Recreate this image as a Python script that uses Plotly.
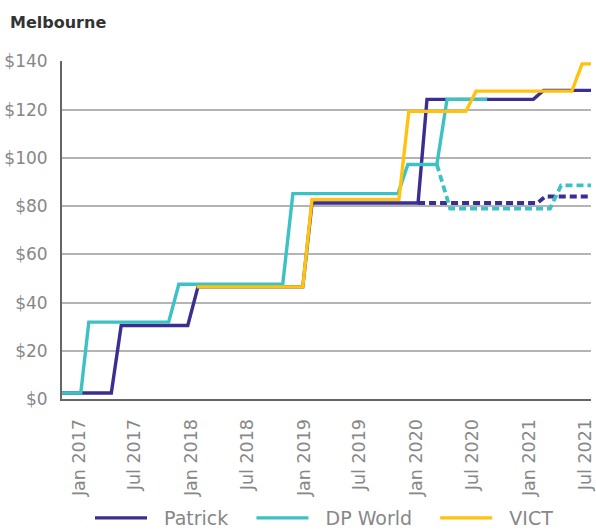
import plotly.graph_objects as go

# ---- data ----
patrick_dates = ["2016-11-07", "2017-04-16", "2017-05-18", "2017-12-20", "2018-01-22",
                 "2018-12-28", "2019-01-27", "2020-01-06", "2020-02-04", "2021-01-14",
                 "2021-02-16", "2021-07-20"]
patrick_vals = [2.5, 2.5, 30.5, 30.5, 46.5, 46.5, 81.3, 81.3, 124.3, 124.3, 128, 128]

patrick_alt_dates = ["2020-01-06", "2021-01-27", "2021-02-22", "2021-07-20"]
patrick_alt_vals = [81.3, 81.3, 84, 84]

dpw_dates = ["2016-11-07", "2017-01-07", "2017-02-02", "2017-10-19", "2017-11-21",
             "2018-10-24", "2018-11-26", "2019-11-02", "2019-12-04", "2020-03-07",
             "2020-04-09", "2020-08-17"]
dpw_vals = [2.5, 2.5, 31.9, 31.9, 47.6, 47.6, 85.2, 85.2, 97.3, 97.3, 124.3, 124.3]

dpw_alt_dates = ["2020-03-07", "2020-04-19", "2021-03-09", "2021-04-14", "2021-07-20"]
dpw_alt_vals = [97.3, 79, 79, 88.6, 88.6]

vict_dates = ["2018-01-18", "2018-12-28", "2019-01-27", "2019-11-05", "2019-12-07",
              "2020-06-09", "2020-07-12", "2021-05-19", "2021-06-21", "2021-07-20"]
vict_vals = [46.5, 46.5, 82.8, 82.8, 119.3, 119.3, 127.7, 127.7, 139, 139]

y_tickvals = [0, 20, 40, 60, 80, 100, 120, 140]
y_ticktext = ["$0", "$20", "$40", "$60", "$80", "$100", "$120", "$140"]
x_tickvals = ["2017-01-01", "2017-07-01", "2018-01-01", "2018-07-01", "2019-01-01",
              "2019-07-01", "2020-01-01", "2020-07-01", "2021-01-01", "2021-07-01"]
x_ticktext = ["Jan 2017", "Jul 2017", "Jan 2018", "Jul 2018", "Jan 2019",
              "Jul 2019", "Jan 2020", "Jul 2020", "Jan 2021", "Jul 2021"]
series_names = ["Patrick", "DP World", "VICT"]

PURPLE = "#3a2e92"
TEAL = "#3cc1c4"
YELLOW = "#ffc20e"
FONT = "DejaVu Sans"
GREY = "#878787"
NB = "\u00a0"

fig = go.Figure()
fig.add_trace(go.Scatter(x=patrick_dates, y=patrick_vals, mode="lines",
                         name=NB * 2 + series_names[0] + NB * 3,
                         line=dict(color=PURPLE, width=3.4)))
fig.add_trace(go.Scatter(x=patrick_alt_dates, y=patrick_alt_vals, mode="lines", showlegend=False,
                         line=dict(color=PURPLE, width=3.8, dash="7px,4px")))
fig.add_trace(go.Scatter(x=dpw_dates, y=dpw_vals, mode="lines",
                         name=NB * 2 + series_names[1] + NB * 3,
                         line=dict(color=TEAL, width=3.4)))
fig.add_trace(go.Scatter(x=dpw_alt_dates, y=dpw_alt_vals, mode="lines", showlegend=False,
                         line=dict(color=TEAL, width=3.8, dash="7px,4px")))
fig.add_trace(go.Scatter(x=vict_dates, y=vict_vals, mode="lines",
                         name=NB * 2 + series_names[2],
                         line=dict(color=YELLOW, width=3.4)))

fig.update_layout(
    width=596, height=531,
    margin=dict(l=62, r=5, t=61, b=132, autoexpand=False),
    paper_bgcolor="white", plot_bgcolor="white",
    font=dict(family=FONT, color=GREY, size=14),
    title=dict(text="<b>Melbourne</b>", x=10 / 596, xanchor="left", xref="container",
               y=1 - 22 / 531, yanchor="middle", yref="container",
               font=dict(family=FONT, size=16, color="#333333")),
    showlegend=True,
    legend=dict(orientation="h", x=90 / 596, xanchor="left", xref="container",
                y=13 / 531, yanchor="middle", yref="container",
                font=dict(family=FONT, size=19, color=GREY), itemwidth=52),
    hovermode=False,
)
fig.update_xaxes(
    type="date", range=["2016-11-07", "2021-07-20"],
    tickvals=x_tickvals, ticktext=x_ticktext, tickangle=-90,
    showgrid=False, showline=True, linecolor="#666666", linewidth=2,
    ticks="", ticklabelstandoff=11, tickfont=dict(family=FONT, size=17.5, color=GREY),
    zeroline=False, automargin=False,
)
fig.update_yaxes(
    range=[0, 140.2], tickvals=y_tickvals, ticktext=y_ticktext,
    showgrid=True, gridcolor="#b4b4b4", gridwidth=1.5,
    showline=True, linecolor="#666666", linewidth=2,
    ticks="", ticklabelstandoff=9, tickfont=dict(family=FONT, size=17, color=GREY),
    zeroline=False, automargin=False,
)

fig.write_html("out.html", config={"displayModeBar": False},
               post_script="document.body.style.margin='0';document.body.style.overflow='hidden';")
